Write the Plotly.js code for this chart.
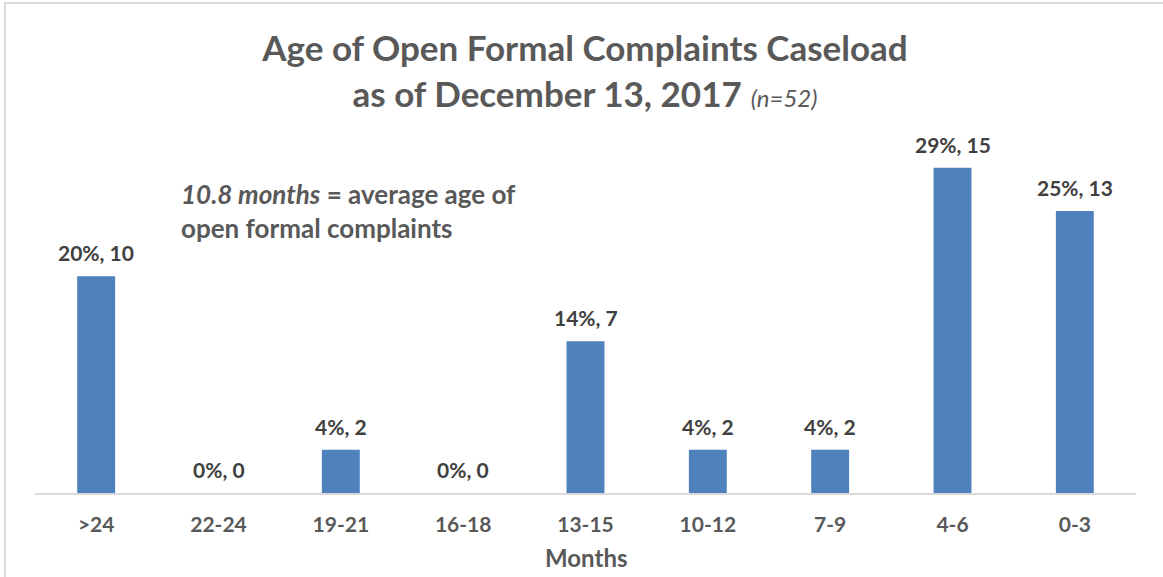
<!DOCTYPE html>
<html>
<head>
<meta charset="utf-8">
<script src="https://cdn.plot.ly/plotly-3.0.1.min.js"></script>
<style>
html,body{margin:0;padding:0;background:#fff;}
#wrap{position:relative;width:1163px;height:577px;overflow:hidden;}
#chart{width:1163px;height:577px;}
#frame{position:absolute;left:4px;top:2px;width:1170px;height:590px;border-left:2px solid #d9d9d9;border-top:2px solid #d9d9d9;pointer-events:none;}
</style>
</head>
<body>
<div id="wrap"><div id="chart"></div><div id="frame"></div></div>
<script>
const categories = [">24", "22-24", "19-21", "16-18", "13-15", "10-12", "7-9", "4-6", "0-3"];
const counts = [10, 0, 2, 0, 7, 2, 2, 15, 13];
const percents = ["20%", "0%", "4%", "0%", "14%", "4%", "4%", "29%", "25%"];
const labels = counts.map((c, i) => percents[i] + ", " + c);

const FONT = "Lato, 'Open Sans', sans-serif";

const trace = {
  type: "bar",
  x: categories,
  y: counts,
  marker: {color: "#4F81BD", line: {width: 0}},
  width: 0.31,
  hoverinfo: "none"
};

const labelAnns = categories.map((c, i) => ({
  x: c, y: counts[i], xref: "x", yref: "y",
  xanchor: "center", yanchor: "bottom", yshift: 9,
  showarrow: false,
  text: "<b>" + labels[i] + "</b>",
  font: {family: FONT, size: 21, color: "#404040"}
}));

const layout = {
  width: 1163, height: 577,
  margin: {l: 35, r: 27, t: 120, b: 84},
  paper_bgcolor: "#ffffff",
  plot_bgcolor: "#ffffff",
  showlegend: false,
  title: {
    text: "<b>Age of Open Formal Complaints Caseload</b><br><b>as of December 13, 2017</b> <i><span style='font-size:24px;font-weight:normal'>(n=52)</span></i>",
    font: {family: FONT, size: 35, color: "#595959"},
    x: 0.503, xanchor: "center",
    y: 0.894, yanchor: "top"
  },
  xaxis: {
    type: "category",
    showgrid: false,
    showline: true, linecolor: "#d9d9d9", linewidth: 2,
    ticks: "", ticklen: 0,
    tickvals: categories,
    ticktext: categories.map(c => "<b>" + c + "</b>"),
    ticklabelstandoff: 12,
    tickfont: {family: FONT, size: 21, color: "#595959"}
  },
  yaxis: {
    range: [0, 17.2],
    visible: false,
    showgrid: false,
    zeroline: false,
    fixedrange: true
  },
  annotations: labelAnns.concat([{
    xref: "paper", yref: "paper",
    x: 0.131, y: 0.85, xanchor: "left", yanchor: "top",
    align: "left",
    showarrow: false,
    text: "<b><i>10.8 months</i> = average age of</b><br><b>open formal complaints</b>",
    font: {family: FONT, size: 26, color: "#595959"}
  }, {
    xref: "paper", yref: "paper",
    x: 0.5, y: 0, xanchor: "center", yanchor: "top", yshift: -48,
    showarrow: false,
    text: "<b>Months</b>",
    font: {family: FONT, size: 24, color: "#595959"}
  }])
};

Plotly.newPlot("chart", [trace], layout, {displayModeBar: false, staticPlot: true});
</script>
</body>
</html>
